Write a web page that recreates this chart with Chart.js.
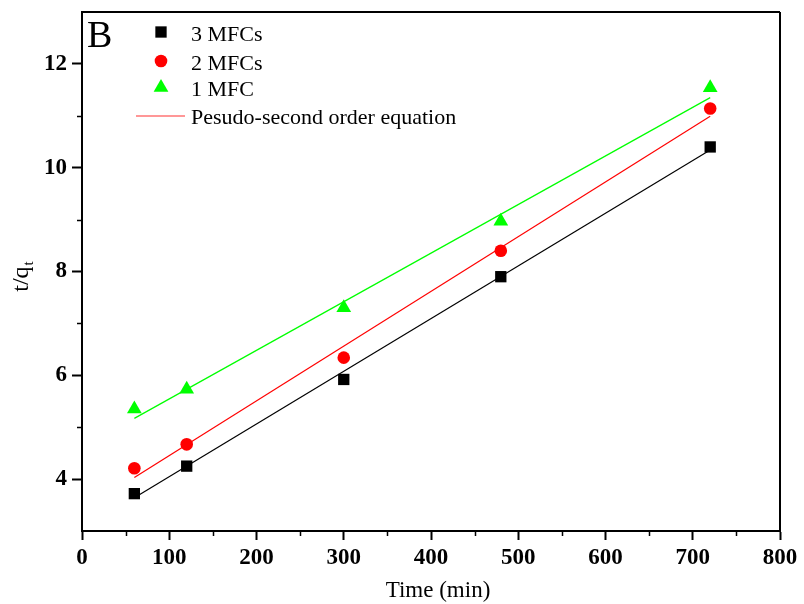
<!DOCTYPE html>
<html>
<head>
<meta charset="utf-8">
<script src="https://cdn.jsdelivr.net/npm/chart.js@4.4.1/dist/chart.umd.min.js"></script>
<style>
  html, body { margin: 0; padding: 0; background: #fff; }
  #wrap { width: 804px; height: 604px; }
</style>
</head>
<body>
<div id="wrap"><canvas id="kinetics" width="804" height="604"></canvas></div>
<script>
// sampling times (min)
const times = [60, 120, 300, 480, 720];
// t/qt for each set-up
const mfc3 = [3.72, 4.25, 5.92, 7.90, 10.40];
const mfc2 = [4.21, 4.67, 6.34, 8.40, 11.14];
const mfc1 = [5.35, 5.73, 7.30, 8.97, 11.54];
// pseudo-second order fits, at first and last time
const fitX = [60, 720];
const fit3 = [3.64, 10.34];
const fit2 = [4.03, 10.99];
const fit1 = [5.17, 11.35];

const xTicks = [0, 100, 200, 300, 400, 500, 600, 700, 800];
const xMinor = [50, 150, 250, 350, 450, 550, 650, 750];
const yTicks = [4, 6, 8, 10, 12];
const yMinor = [5, 7, 9, 11];

const seriesNames = ['3 MFCs', '2 MFCs', '1 MFC'];
const fitName = 'Pesudo-second order equation';

const SERIF = '"Liberation Serif", "Times New Roman", serif';
const GREEN = '#00ff00';

const pts = (xs, ys) => xs.map((x, i) => ({ x, y: ys[i] }));

const markers = [
  { color: '#000000', style: 'rect', radius: 8 },
  { color: '#ff0000', style: 'circle', radius: 6.3 },
  { color: GREEN, style: 'triangle', radius: 8.5 },
];

const scatterSets = [mfc3, mfc2, mfc1].map((ys, i) => ({
  label: seriesNames[i],
  data: pts(times, ys),
  showLine: false,
  pointStyle: markers[i].style,
  pointRadius: markers[i].radius,
  pointHoverRadius: markers[i].radius,
  pointBackgroundColor: markers[i].color,
  pointBorderWidth: 0,
  order: 0,
}));

const fitSets = [fit3, fit2, fit1].map((ys, i) => ({
  label: fitName,
  data: pts(fitX, ys),
  showLine: true,
  borderColor: markers[i].color,
  borderWidth: 1.2,
  pointRadius: 0,
  fill: false,
  order: 1,
}));

// frame, minor ticks, titles and the in-plot legend
const decorations = {
  id: 'decorations',
  afterDraw(chart) {
    const { ctx, chartArea: a, scales } = chart;
    ctx.save();
    ctx.strokeStyle = '#000';
    ctx.lineWidth = 2;
    ctx.beginPath();
    ctx.moveTo(a.left, a.top); ctx.lineTo(a.right, a.top);
    ctx.moveTo(a.right, a.top); ctx.lineTo(a.right, a.bottom);
    ctx.stroke();

    ctx.lineWidth = 1.5;
    ctx.beginPath();
    xMinor.forEach(v => {
      const px = Math.round(scales.x.getPixelForValue(v)) + 0.5;
      ctx.moveTo(px, a.bottom); ctx.lineTo(px, a.bottom + 5);
    });
    yMinor.forEach(v => {
      const py = Math.round(scales.y.getPixelForValue(v)) + 0.5;
      ctx.moveTo(a.left, py); ctx.lineTo(a.left - 5, py);
    });
    ctx.stroke();

    ctx.fillStyle = '#000';
    ctx.textBaseline = 'alphabetic';

    // panel letter
    ctx.font = '38px ' + SERIF;
    ctx.textAlign = 'left';
    ctx.fillText('B', 87, 47);

    // x title
    ctx.font = '23px ' + SERIF;
    ctx.textAlign = 'center';
    ctx.fillText('Time (min)', 438, 597);

    // y title with subscript
    ctx.save();
    ctx.translate(28, 277);
    ctx.rotate(-Math.PI / 2);
    ctx.font = '24px ' + SERIF;
    const main = 't/q';
    const wMain = ctx.measureText(main).width;
    ctx.font = '15px ' + SERIF;
    const wSub = ctx.measureText('t').width;
    const x0 = -(wMain + wSub) / 2;
    ctx.font = '24px ' + SERIF;
    ctx.textAlign = 'left';
    ctx.fillText(main, x0, 0);
    ctx.font = '15px ' + SERIF;
    ctx.fillText('t', x0 + wMain + 1, 5);
    ctx.restore();

    // legend
    const legendY = [32, 61, 87.5];
    ctx.font = '22px ' + SERIF;
    ctx.textAlign = 'left';
    markers.forEach((m, i) => {
      ctx.fillStyle = m.color;
      Chart.helpers.drawPoint(ctx, { pointStyle: m.style, radius: m.radius, rotation: 0, borderWidth: 0 }, 161, legendY[i]);
      ctx.fillStyle = '#000';
      ctx.fillText(seriesNames[i], 191, legendY[i] + 8.5);
    });
    ctx.strokeStyle = '#ff3030';
    ctx.lineWidth = 1.2;
    ctx.beginPath();
    ctx.moveTo(136, 116); ctx.lineTo(185, 116);
    ctx.stroke();
    ctx.fillText(fitName, 191, 123.5);
    ctx.restore();
  }
};

const tickFont = { family: SERIF, size: 23, weight: 'bold' };

new Chart(document.getElementById('kinetics'), {
  type: 'scatter',
  data: { datasets: [...scatterSets, ...fitSets] },
  options: {
    responsive: false,
    animation: false,
    layout: { padding: { top: 12, right: 24, left: 0, bottom: 0 } },
    plugins: { legend: { display: false }, tooltip: { enabled: false } },
    scales: {
      x: {
        type: 'linear', min: 0, max: 800,
        afterBuildTicks: s => { s.ticks = xTicks.map(v => ({ value: v })); },
        afterFit: s => { s.height = 73; s.paddingLeft = 0; s.paddingRight = 0; },
        grid: { drawOnChartArea: false, tickLength: 9, tickWidth: 2, tickColor: '#000' },
        border: { color: '#000', width: 2 },
        ticks: { font: tickFont, color: '#000', padding: 4, maxRotation: 0, autoSkip: false },
      },
      y: {
        type: 'linear', min: 3, max: 13,
        afterBuildTicks: s => { s.ticks = yTicks.map(v => ({ value: v })); },
        afterFit: s => { s.width = 82; s.paddingTop = 0; s.paddingBottom = 0; },
        grid: { drawOnChartArea: false, tickLength: 10, tickWidth: 2, tickColor: '#000' },
        border: { color: '#000', width: 2 },
        ticks: { font: tickFont, color: '#000', padding: 5, autoSkip: false },
      },
    },
  },
  plugins: [decorations],
});
</script>
</body>
</html>
